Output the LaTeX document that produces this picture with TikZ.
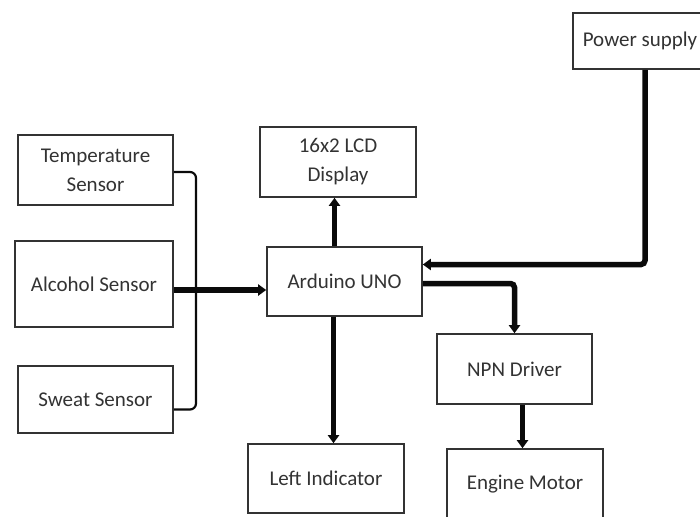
\documentclass[tikz,border=0pt]{standalone}
\usepackage{fontspec}
\setmainfont{Carlito}
\usetikzlibrary{arrows.meta,positioning}
\definecolor{ink}{HTML}{333333}
\definecolor{wire}{HTML}{0A0A0A}

\begin{document}
\begin{tikzpicture}[x=1pt,y=-1pt,text=ink,font=\fontsize{21}{29}\selectfont,block/.style={draw=ink,line width=1.6pt,fill=white,minimum width=155pt,minimum height=70pt,align=center,inner sep=2pt},bus/.style={-{Triangle[length=8pt,width=11pt]},line width=5.5pt,wire},link/.style={line width=2.2pt,wire,rounded corners=6pt}]
 \useasboundingbox (0,0) rectangle (700,516);
 \node[block] (temp) at (95.5,170) {Temperature\\Sensor};
 \node[block,minimum width=158pt,minimum height=86pt] (alc) at (94,284) {Alcohol Sensor};
 \node[block,minimum height=67pt] (sweat) at (95.5,399.5) {Sweat Sensor};
 \node[block,minimum width=156pt] (lcd) at (338,162) {16x2 LCD\\Display};
 \node[block,minimum height=69pt] (uno) at (344.5,281.5) {Arduino UNO};
 \node[block,minimum width=134pt,minimum height=56pt] (power) at (640,41) {Power supply};
 \node[block] (npn) at (514.5,369) {NPN Driver};
 \node[block,minimum width=156pt,minimum height=69pt] (left) at (326,478.5) {Left Indicator};
 \node[block,minimum width=156pt] (motor) at (525,484) {Engine Motor};
 \coordinate (jn) at (196,290);
 % sensors join on one line into the board
 \draw[link] ([yshift=-2pt]temp.east) -- ([yshift=-2pt]temp.east -| jn) -- ([yshift=-10pt]sweat.east -| jn) -- ([yshift=-10pt]sweat.east);
 \draw[bus] (alc.east |- jn) -- (uno.west |- jn);
 \fill[wire] (jn) circle (3.5pt);
 \draw[bus] ([xshift=-10pt]uno.north) -- ([xshift=-10pt]uno.north |- lcd.south);
 \draw[bus] ([xshift=-11pt]uno.south) -- ([xshift=-11pt]uno.south |- left.north);
 \draw[bus,rounded corners=4pt] ([xshift=5pt]power.south) |- ([yshift=17pt]uno.east);
 \draw[bus,rounded corners=4pt] ([yshift=-2pt]uno.east) -| (npn.north);
 \draw[bus] ([xshift=8pt]npn.south) -- ([xshift=8pt]npn.south |- motor.north);
\end{tikzpicture}
\end{document}
